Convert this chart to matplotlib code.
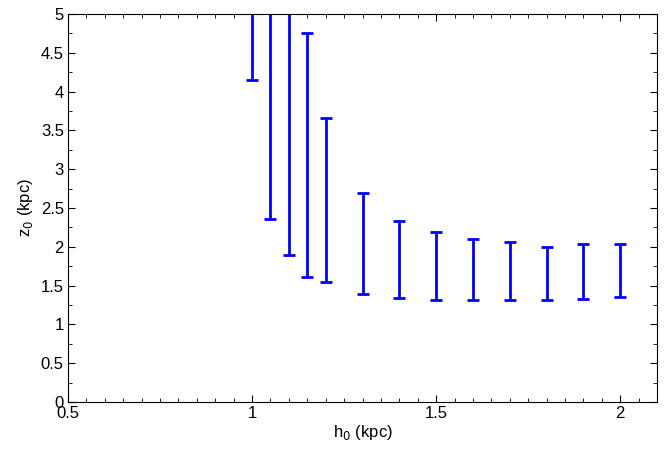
import matplotlib
matplotlib.use("Agg")
import matplotlib.pyplot as plt
from matplotlib.ticker import MultipleLocator

# h0 values and the lower / upper bounds of z0
h0 = [1.0, 1.05, 1.1, 1.15, 1.2, 1.3, 1.4, 1.5, 1.6, 1.7, 1.8, 1.9, 2.0]
z0_low = [4.15, 2.36, 1.89, 1.61, 1.55, 1.39, 1.34, 1.32, 1.31, 1.31, 1.32, 1.33, 1.35]
z0_high = [5.6, 5.6, 5.6, 4.75, 3.66, 2.69, 2.33, 2.19, 2.10, 2.06, 2.00, 2.04, 2.03]

plt.rcParams['font.family'] = ['Liberation Sans', 'DejaVu Sans']

fig = plt.figure(figsize=(6.64, 4.54), dpi=100)
ax = fig.add_axes([68 / 664, 1 - 402 / 454, (657 - 68) / 664, (402 - 14) / 454])

mid = [(lo + hi) / 2 for lo, hi in zip(z0_low, z0_high)]
half = [(hi - lo) / 2 for lo, hi in zip(z0_low, z0_high)]
ax.errorbar(h0, mid, yerr=half, fmt='none', ecolor='blue',
            elinewidth=2, capsize=4.5, capthick=2)

ax.set_xlim(0.5, 2.1)
ax.set_ylim(0, 5)
ax.xaxis.set_major_locator(MultipleLocator(0.5))
ax.xaxis.set_minor_locator(MultipleLocator(0.05))
ax.yaxis.set_major_locator(MultipleLocator(0.5))
ax.yaxis.set_minor_locator(MultipleLocator(0.25))
ax.xaxis.set_major_formatter(plt.FuncFormatter(lambda v, p: f"{v:g}"))
ax.yaxis.set_major_formatter(plt.FuncFormatter(lambda v, p: f"{v:g}"))
ax.tick_params(which='both', direction='in', top=True, right=True, labelsize=12)
ax.tick_params(which='major', length=5, pad=3)
ax.tick_params(which='minor', length=3)

ax.set_xlabel("h$_0$ (kpc)", fontsize=12, labelpad=1)
ax.set_ylabel("z$_0$ (kpc)", fontsize=12, labelpad=4)

fig.savefig("out.png", dpi=100)
